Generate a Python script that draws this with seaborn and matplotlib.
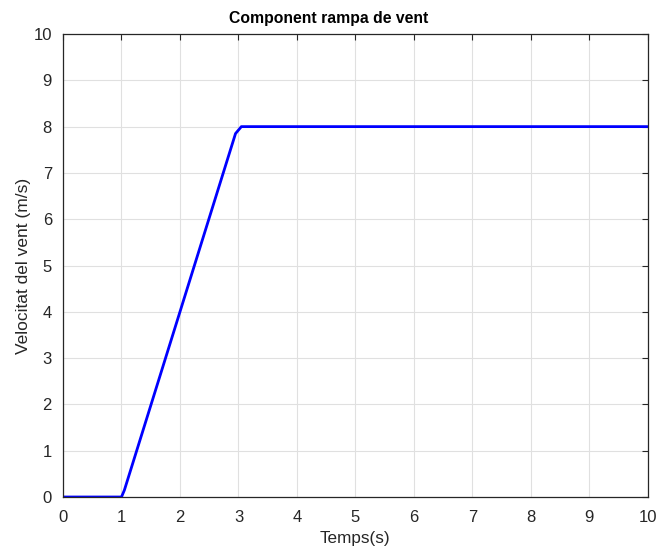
import matplotlib
matplotlib.use("Agg")
import matplotlib.pyplot as plt
import seaborn as sns
import pandas as pd
import numpy as np

temps = [0.0, 1.0, 1.05, 2.95, 3.05, 10.0]
velocitat = [0.0, 0.0, 0.15, 7.85, 8.0, 8.0]
xticks = list(range(0, 11))
yticks = list(range(0, 11))

sns.set_style("white")
plt.rcParams['font.family'] = ['Liberation Sans', 'DejaVu Sans']

df = pd.DataFrame({"Temps": temps, "Vel": velocitat})

fig = plt.figure(figsize=(6.57, 5.55), dpi=100)
ax = fig.add_axes([0.0959, 0.1045, 0.8901, 0.8342])
sns.lineplot(data=df, x="Temps", y="Vel", ax=ax, color="#0000ff", linewidth=2.0, sort=False)

ax.set_xlim(0, 10)
ax.set_ylim(0, 10)
ax.set_xticks(xticks)
ax.set_yticks(yticks)
ax.grid(True, color="#e0e0e0", linewidth=0.8)
for s in ax.spines.values():
    s.set_visible(True)
    s.set_color("#262626")
    s.set_linewidth(0.9)
ax.tick_params(direction="in", length=4, width=0.8, colors="#262626", labelsize=12,
               top=True, right=True, labelcolor="#262626")
ax.tick_params(axis="x", pad=9)
ax.tick_params(axis="y", pad=8)
ax.set_xlabel("Temps(s)", fontsize=12.3, color="#262626", labelpad=5)
ax.set_ylabel("Velocitat del vent (m/s)", fontsize=12.5, color="#262626", labelpad=2)
ax.set_title("Component rampa de vent", fontsize=11.3, fontweight="bold", color="black",
             pad=8, x=0.454)

fig.savefig("out.png", dpi=100)
